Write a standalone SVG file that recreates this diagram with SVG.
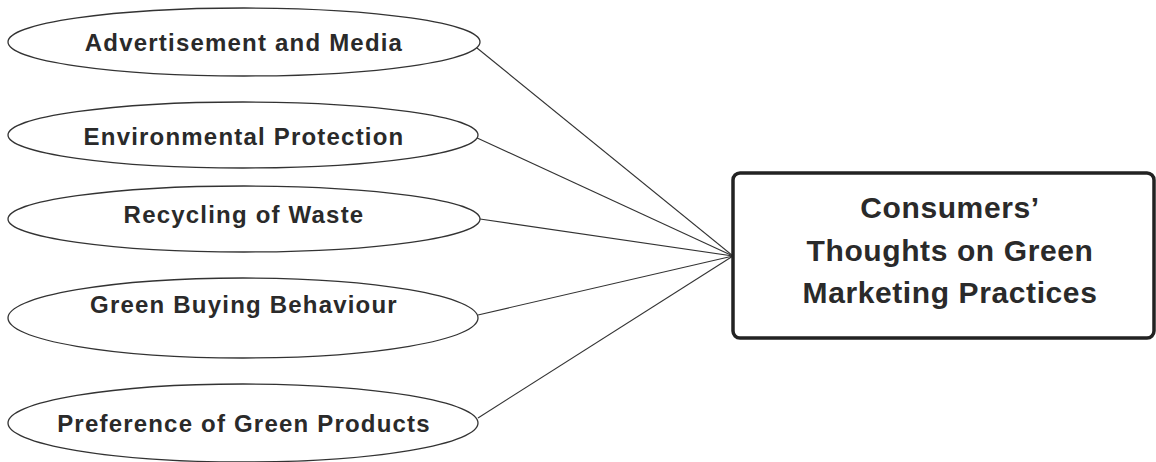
<svg xmlns="http://www.w3.org/2000/svg" width="1156" height="462" viewBox="0 0 1156 462">
<style>
.oval{fill:#fff;stroke:#333;stroke-width:1.3}
.lbl{font-family:"Liberation Sans",Arial,sans-serif;font-weight:bold;font-size:24px;fill:#2a2a2a;text-anchor:middle;letter-spacing:1.2px}
.box{fill:#fff;stroke:#222;stroke-width:3.5}
.btxt{font-family:"Liberation Sans",Arial,sans-serif;font-weight:bold;font-size:30px;fill:#2a2a2a;text-anchor:middle;letter-spacing:0.6px}
.con{stroke:#333;stroke-width:1.1;fill:none}
</style>
<rect width="1156" height="462" fill="#fff"/>
<g id="connectors">
<line class="con" x1="477" y1="48" x2="733" y2="256"/>
<line class="con" x1="475" y1="137" x2="733" y2="256"/>
<line class="con" x1="480" y1="219" x2="733" y2="256"/>
<line class="con" x1="478" y1="315" x2="733" y2="256"/>
<line class="con" x1="478" y1="418" x2="733" y2="256"/>
</g>
<g id="n1"><ellipse class="oval" cx="244" cy="42" rx="236" ry="34"/><text class="lbl" x="244" y="51">Advertisement and Media</text></g>
<g id="n2"><ellipse class="oval" cx="243" cy="135" rx="235" ry="33"/><text class="lbl" x="244" y="145">Environmental Protection</text></g>
<g id="n3"><ellipse class="oval" cx="244" cy="219" rx="236" ry="33"/><text class="lbl" x="244" y="223">Recycling of Waste</text></g>
<g id="n4"><ellipse class="oval" cx="243" cy="318" rx="235" ry="40"/><text class="lbl" x="244" y="313">Green Buying Behaviour</text></g>
<g id="n5"><ellipse class="oval" cx="243" cy="423" rx="235" ry="39"/><text class="lbl" x="244" y="432">Preference of Green Products</text></g>
<g id="target"><rect class="box" x="733" y="173" width="421" height="165" rx="7"/>
<text class="btxt" x="950" y="218">Consumers’</text>
<text class="btxt" x="950" y="261">Thoughts on Green</text>
<text class="btxt" x="950" y="303">Marketing Practices</text></g>
</svg>
